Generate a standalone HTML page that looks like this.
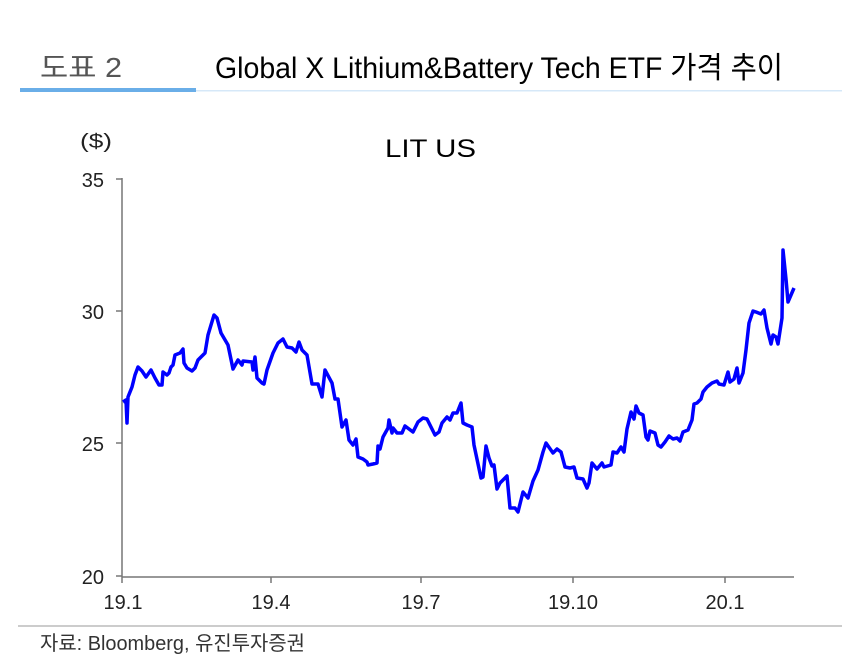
<!DOCTYPE html>
<html><head><meta charset="utf-8"><style>
html,body{margin:0;padding:0;background:#fff;width:857px;height:666px;overflow:hidden}
svg{display:block}
text{font-family:"Liberation Sans","Noto Sans CJK KR",sans-serif}
</style></head><body>
<svg width="857" height="666" viewBox="0 0 857 666">
<text x="40" y="77" font-size="28" fill="#555" textLength="82" lengthAdjust="spacingAndGlyphs">도표 2</text>
<text x="215" y="78" font-size="30" fill="#000" textLength="568" lengthAdjust="spacingAndGlyphs">Global X Lithium&amp;Battery Tech ETF 가격 추이</text>
<rect x="20" y="88" width="176" height="4" fill="#6aaee8"/>
<rect x="196" y="90" width="646" height="1.5" fill="#d6e8f8"/>
<text x="80" y="148" font-size="20" fill="#222" textLength="32" lengthAdjust="spacingAndGlyphs">($)</text>
<text x="385" y="157" font-size="25" fill="#000" textLength="91" lengthAdjust="spacingAndGlyphs">LIT US</text>
<line x1="122" y1="178" x2="122" y2="577" stroke="#777" stroke-width="1.5"/>
<line x1="122" y1="577" x2="794" y2="577" stroke="#777" stroke-width="1.5"/>
<g stroke="#777" stroke-width="1.5">
<line x1="116" y1="179" x2="122" y2="179"/><line x1="116" y1="311" x2="122" y2="311"/><line x1="116" y1="443" x2="122" y2="443"/><line x1="116" y1="576" x2="122" y2="576"/>
<line x1="122" y1="577" x2="122" y2="583"/><line x1="271" y1="577" x2="271" y2="583"/><line x1="421" y1="577" x2="421" y2="583"/><line x1="573" y1="577" x2="573" y2="583"/><line x1="725" y1="577" x2="725" y2="583"/>
</g>
<g font-size="20" fill="#222" text-anchor="end">
<text x="104" y="187">35</text><text x="104" y="319">30</text><text x="104" y="451">25</text><text x="104" y="584">20</text>
</g>
<g font-size="20" fill="#222" text-anchor="middle">
<text x="123" y="609">19.1</text><text x="271" y="609">19.4</text><text x="421" y="609">19.7</text><text x="573" y="609">19.10</text><text x="725" y="609">20.1</text>
</g>
<line x1="18" y1="626" x2="842" y2="626" stroke="#999" stroke-width="1"/>
<text x="40" y="650" font-size="20" fill="#333" textLength="265" lengthAdjust="spacingAndGlyphs">자료: Bloomberg, 유진투자증권</text>
<polyline fill="none" stroke="#0000ff" stroke-width="3.5" stroke-linejoin="round" points="123,402 126,400 127,423 128,397 132,387 135,375 138,367 142,371 146,377 151,370 155,378 159,385 162,385 163,372 167,375 169,373 171,367 173,365 175,355 180,353 183,349 184,363 187,368 192,371 195,368 198,360 205,353 208,335 214,315 217,318 221,333 228,345 233,369 238,360 242,365 243,361 252,362 253,370 255,357 257,378 262,383 264,384 267,370 273,353 278,343 283,339 287,347 292,348 296,352 299,342 302,350 307,355 312,384 318,384 322,397 325,370 332,383 335,399 338,399 342,427 346,420 349,440 353,445 356,439 358,457 363,459 367,462 368,465 373,464 377,463 378,446 380,449 383,437 388,428 389,420 392,433 393,428 397,433 402,433 405,426 413,432 418,422 423,418 427,419 435,435 439,432 442,423 447,417 450,420 453,413 457,413 461,403 463,423 467,425 472,427 474,445 481,478 483,477 486,446 489,458 492,466 494,465 497,489 500,483 507,476 510,508 515,508 518,512 523,492 528,498 533,481 538,470 543,452 546,443 553,453 557,449 561,452 565,467 570,468 574,467 577,478 583,479 587,488 589,483 592,463 597,469 602,463 604,467 611,465 613,452 617,453 621,447 624,452 627,429 631,412 634,419 636,406 639,413 643,415 646,437 648,440 650,431 655,433 658,445 661,447 665,442 669,436 673,439 677,438 680,441 683,432 688,430 692,420 694,404 697,403 701,399 703,392 707,387 712,383 717,381 719,384 724,385 728,372 730,382 734,379 737,368 739,383 743,373 746,350 749,323 753,311 756,312 761,314 764,310 767,328 771,344 773,335 776,337 778,344 782,318 783,250 786,279 788,302 794,288"/>
</svg>
</body></html>
